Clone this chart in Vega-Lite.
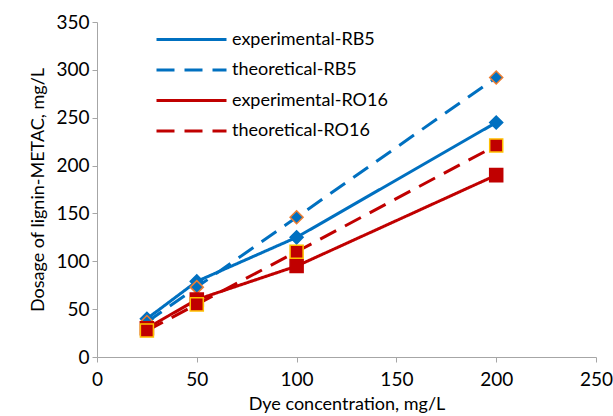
{
  "$schema": "https://vega.github.io/schema/vega-lite/v6.json",
  "width": 499,
  "height": 335,
  "autosize": "none",
  "padding": {"left": 97, "top": 22, "right": 17, "bottom": 59},
  "background": "white",
  "config": {
    "view": {"stroke": null},
    "font": "Lato",
    "axis": {
      "grid": false,
      "domainColor": "#A6A6A6",
      "tickColor": "#A6A6A6",
      "tickSize": 5,
      "labelFont": "Lato",
      "labelFontSize": 19,
      "labelColor": "#000000",
      "titleFont": "Lato",
      "titleFontSize": 18,
      "titleFontWeight": "normal",
      "titleColor": "#000000"
    }
  },
  "data": {
    "values": [
      {"series": "experimental-RB5", "x": 25, "y": 40},
      {"series": "experimental-RB5", "x": 50, "y": 79},
      {"series": "experimental-RB5", "x": 100, "y": 125},
      {"series": "experimental-RB5", "x": 200, "y": 245},
      {"series": "theoretical-RB5", "x": 25, "y": 36.5},
      {"series": "theoretical-RB5", "x": 50, "y": 73},
      {"series": "theoretical-RB5", "x": 100, "y": 146},
      {"series": "theoretical-RB5", "x": 200, "y": 292},
      {"series": "experimental-RO16", "x": 25, "y": 30},
      {"series": "experimental-RO16", "x": 50, "y": 60},
      {"series": "experimental-RO16", "x": 100, "y": 95},
      {"series": "experimental-RO16", "x": 200, "y": 190},
      {"series": "theoretical-RO16", "x": 25, "y": 27.6},
      {"series": "theoretical-RO16", "x": 50, "y": 55},
      {"series": "theoretical-RO16", "x": 100, "y": 110},
      {"series": "theoretical-RO16", "x": 200, "y": 221}
    ]
  },
  "encoding": {
    "x": {
      "field": "x", "type": "quantitative",
      "scale": {"domain": [0, 250], "nice": false, "zero": true},
      "axis": {"values": [0, 50, 100, 150, 200, 250], "title": "Dye concentration, mg/L", "labelPadding": 8, "titlePadding": 6, "labelFlush": false}
    },
    "y": {
      "field": "y", "type": "quantitative",
      "scale": {"domain": [0, 350], "nice": false},
      "axis": {"values": [0, 50, 100, 150, 200, 250, 300, 350], "title": "Dosage of lignin-METAC, mg/L", "labelPadding": 3, "titlePadding": 8, "labelFlush": false}
    }
  },
  "layer": [
    {
      "mark": {"type": "line", "strokeWidth": 3, "strokeCap": "butt"},
      "encoding": {
        "color": {
          "field": "series", "type": "nominal",
          "scale": {
            "domain": ["experimental-RB5", "theoretical-RB5", "experimental-RO16", "theoretical-RO16"],
            "range": ["#0070C0", "#0070C0", "#C00000", "#C00000"]
          },
          "legend": {
            "title": null,
            "orient": "none",
            "legendX": 58,
            "legendY": 6,
            "symbolType": "M-1,0H6",
            "symbolSize": 400,
            "symbolStrokeWidth": 3,
            "labelFont": "Lato",
            "labelFontSize": 18,
            "labelLimit": 400,
            "labelColor": "#000000",
            "labelOffset": 54,
            "rowPadding": 9.5
          }
        },
        "strokeDash": {
          "field": "series", "type": "nominal",
          "scale": {
            "domain": ["experimental-RB5", "theoretical-RB5", "experimental-RO16", "theoretical-RO16"],
            "range": [[1, 0], [18, 10], [1, 0], [18, 10]]
          },
          "legend": {
            "title": null,
            "orient": "none",
            "legendX": 58,
            "legendY": 6,
            "symbolType": "M-1,0H6",
            "symbolSize": 400,
            "symbolStrokeWidth": 3,
            "labelFont": "Lato",
            "labelFontSize": 18,
            "labelLimit": 400,
            "labelColor": "#000000",
            "labelOffset": 54,
            "rowPadding": 9.5
          }
        }
      }
    },
    {
      "mark": {"type": "point", "filled": true, "size": 170, "strokeWidth": 1.5, "opacity": 1},
      "encoding": {
        "shape": {
          "field": "series", "type": "nominal",
          "scale": {
            "domain": ["experimental-RB5", "theoretical-RB5", "experimental-RO16", "theoretical-RO16"],
            "range": ["diamond", "diamond", "square", "square"]
          },
          "legend": null
        },
        "fill": {
          "field": "series", "type": "nominal",
          "scale": {
            "domain": ["experimental-RB5", "theoretical-RB5", "experimental-RO16", "theoretical-RO16"],
            "range": ["#0070C0", "#0070C0", "#C00000", "#C00000"]
          },
          "legend": null
        },
        "stroke": {
          "field": "series", "type": "nominal",
          "scale": {
            "domain": ["experimental-RB5", "theoretical-RB5", "experimental-RO16", "theoretical-RO16"],
            "range": ["#0070C0", "#ED7D31", "#C00000", "#FFC000"]
          },
          "legend": null
        }
      }
    }
  ],
  "resolve": {
    "scale": {"shape": "independent", "fill": "independent", "stroke": "independent"},
    "legend": {"shape": "independent", "fill": "independent", "stroke": "independent"}
  }
}
